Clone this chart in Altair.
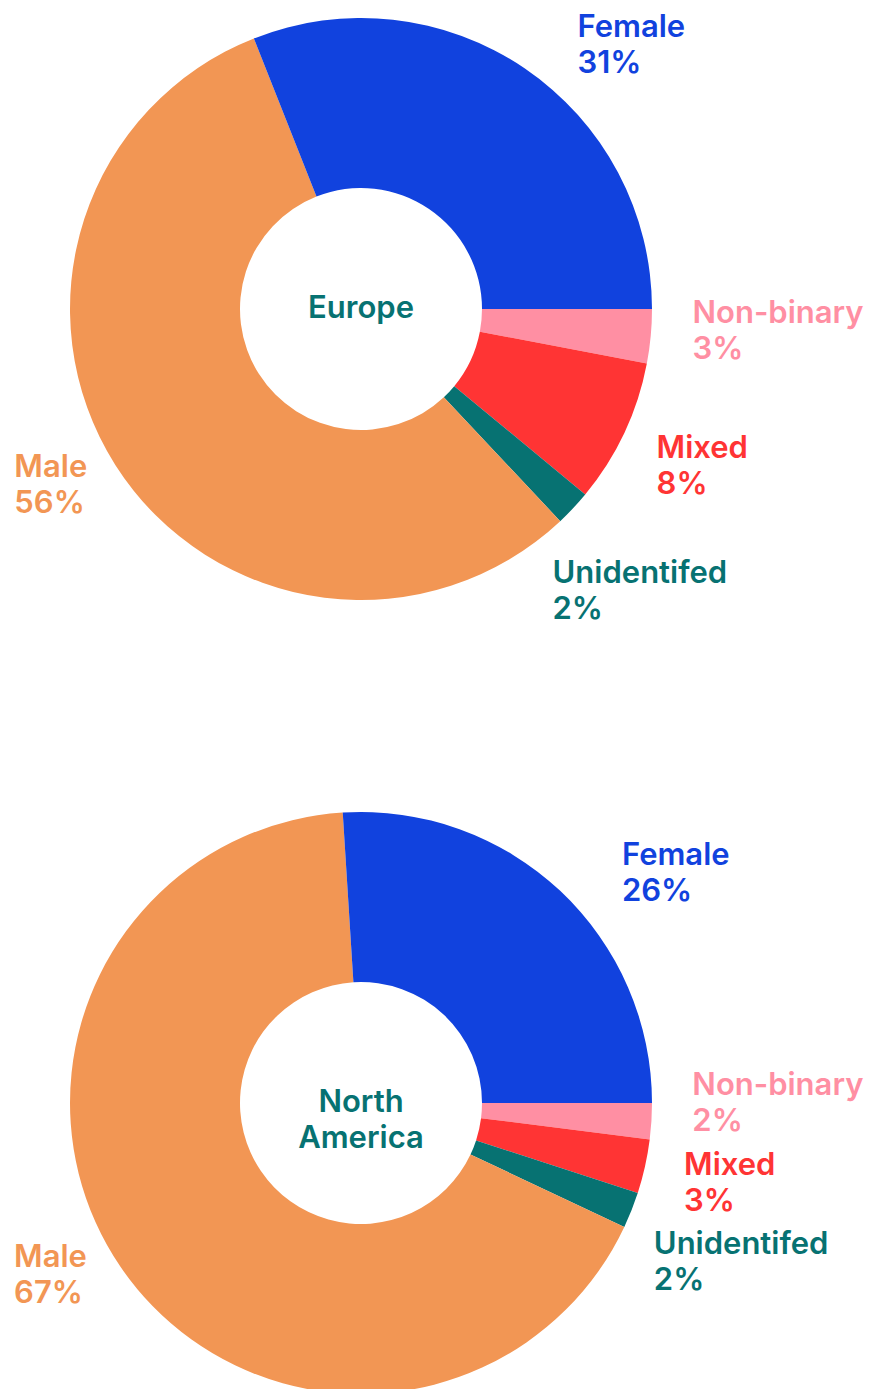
import math
import altair as alt
import pandas as pd

# ---- data ----
regions = ["Europe", "North America"]
region_titles = ["Europe", "North\nAmerica"]
categories = ["Non-binary", "Mixed", "Unidentifed", "Male", "Female"]
europe_values = [3, 8, 2, 56, 31]
north_america_values = [2, 3, 2, 67, 26]
colors = ["#FF8FA3", "#FF3434", "#077272", "#F29654", "#1142DE"]

rows = []
for region, vals in zip(regions, [europe_values, north_america_values]):
    for i, (c, v) in enumerate(zip(categories, vals)):
        rows.append({"region": region, "category": c, "value": v, "order": i,
                     "label": f"{c}\n{v}%"})
df = pd.DataFrame(rows)
titles = pd.DataFrame({"region": regions, "title": region_titles})

# ---- styles ----
FONT = "Inter"
FS = 31
LH = 36
CX = 353
label_offsets = {
    ("Europe", "Female"): (31, 1),
    ("Europe", "Non-binary"): (3, -17),
    ("Europe", "Mixed"): (-3, 8),
    ("Europe", "Unidentifed"): (-49, 48),
    ("Europe", "Male"): (-68, -9),
    ("North America", "Female"): (35, 3),
    ("North America", "Non-binary"): (2, -29),
    ("North America", "Mixed"): (1, 0),
    ("North America", "Unidentifed"): (-14, 30),
    ("North America", "Male"): (-74, -21),
}

y_enc = alt.Y("region:N", scale=alt.Scale(domain=regions, range=[293, 1087], padding=0), axis=None)
theta_scale = alt.Scale(domain=[0, 100], range=[math.pi / 2, math.pi / 2 + 2 * math.pi])
color_scale = alt.Scale(domain=categories, range=colors)

stacked = alt.Chart(df).transform_stack(
    stack="value", groupby=["region"], as_=["v0", "v1"], sort=[alt.SortField("order")]
).transform_calculate(mid="(datum.v0 + datum.v1) / 2")

arcs = stacked.mark_arc(outerRadius=291, innerRadius=121).encode(
    theta=alt.Theta("v0:Q", stack=None, scale=theta_scale),
    theta2="v1:Q",
    color=alt.Color("category:N", scale=color_scale, legend=None),
    x=alt.value(CX),
    y=y_enc,
)

label_layers = []
for (r, c), (dx, dy) in label_offsets.items():
    label_layers.append(
        stacked.transform_filter(
            f"datum.region == '{r}' && datum.category == '{c}'"
        ).mark_text(
            radius=330, align="left", baseline="alphabetic", dx=dx, dy=dy,
            font=FONT, fontSize=FS, fontWeight=600, lineBreak="\n", lineHeight=LH,
        ).encode(
            theta=alt.Theta("mid:Q", stack=None, scale=theta_scale),
            text="label:N",
            color=alt.Color("category:N", scale=color_scale, legend=None),
            x=alt.value(CX),
            y=y_enc,
        )
    )

centers = alt.Chart(titles).mark_text(
    align="center", baseline="middle", font=FONT, fontSize=FS, fontWeight=600,
    lineBreak="\n", lineHeight=LH, color="#077272",
).encode(x=alt.value(CX), y=y_enc, text="title:N")

chart = alt.layer(arcs, *label_layers, centers).properties(
    width=857, height=1373, autosize="none",
    padding={"left": 0, "top": 8, "right": 0, "bottom": 0},
).configure_view(stroke=None)

chart.save("out.html", embed_options={"renderer": "svg", "actions": False})
